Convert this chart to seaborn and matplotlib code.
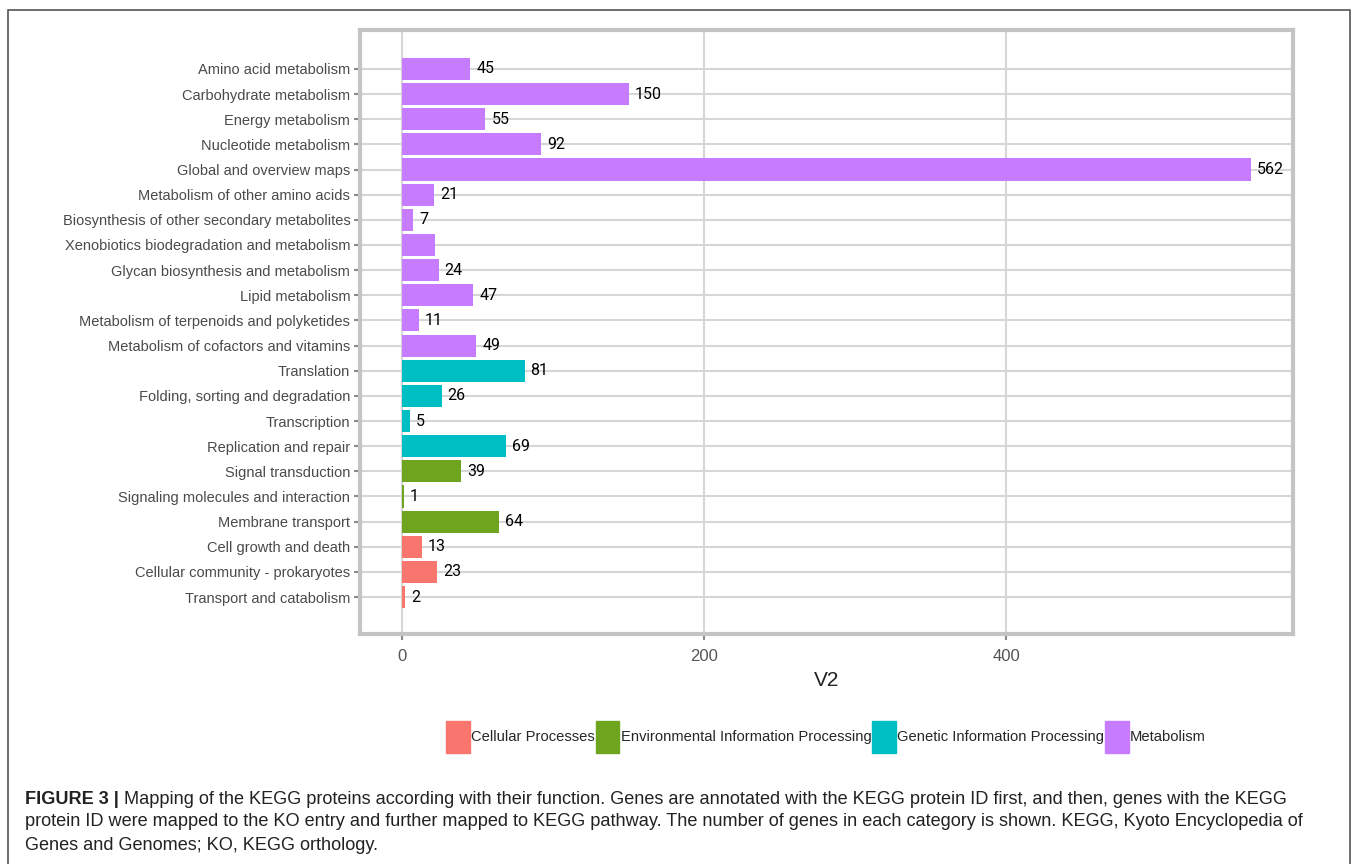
import matplotlib
matplotlib.use("Agg")
import matplotlib.pyplot as plt
import seaborn as sns
import pandas as pd
from matplotlib.patches import Rectangle

categories = [
    "Amino acid metabolism", "Carbohydrate metabolism", "Energy metabolism",
    "Nucleotide metabolism", "Global and overview maps", "Metabolism of other amino acids",
    "Biosynthesis of other secondary metabolites", "Xenobiotics biodegradation and metabolism",
    "Glycan biosynthesis and metabolism", "Lipid metabolism",
    "Metabolism of terpenoids and polyketides", "Metabolism of cofactors and vitamins",
    "Translation", "Folding, sorting and degradation", "Transcription",
    "Replication and repair", "Signal transduction", "Signaling molecules and interaction",
    "Membrane transport", "Cell growth and death", "Cellular community - prokaryotes",
    "Transport and catabolism",
]
values = [45, 150, 55, 92, 562, 21, 7, 22, 24, 47, 11, 49, 81, 26, 5, 69, 39, 1, 64, 13, 23, 2]
value_labels = ["45", "150", "55", "92", "562", "21", "7", "", "24", "47", "11", "49",
                "81", "26", "5", "69", "39", "1", "64", "13", "23", "2"]
groups = (["Metabolism"] * 12 + ["Genetic Information Processing"] * 4
          + ["Environmental Information Processing"] * 3 + ["Cellular Processes"] * 3)
group_order = ["Cellular Processes", "Environmental Information Processing",
               "Genetic Information Processing", "Metabolism"]
group_colors = ["#F8766D", "#6FA41F", "#00BFC4", "#C77CFF"]

df = pd.DataFrame({"cat": categories, "V2": values, "group": groups})

sns.set_style("white")
fam = ["Liberation Sans", "DejaVu Sans"]
plt.rcParams["font.family"] = fam

W, H = 1358, 864
fig = plt.figure(figsize=(W / 100, H / 100), dpi=100)
renderer = fig.canvas.get_renderer()


def fit_size(text, target_px, base=12, **kw):
    t = fig.text(0, 0, text, fontsize=base, **kw)
    w = t.get_window_extent(renderer).width
    t.remove()
    return base * target_px / w


ax = fig.add_axes([360 / W, 1 - 634 / H, (1293 - 360) / W, (634 - 30) / H])

sns.barplot(data=df, y="cat", x="V2", hue="group", hue_order=group_order,
            palette=dict(zip(group_order, group_colors)), order=categories,
            dodge=False, orient="h", width=0.88, ax=ax, legend=True, saturation=1,
            linewidth=0)

lab_size = fit_size("Biosynthesis of other secondary metabolites", 287)

for i, (v, lab) in enumerate(zip(values, value_labels)):
    ax.text(v + 4, i, lab, va="center", ha="left", fontsize=11.5, color="black",
            family=["Roboto", "DejaVu Sans"])

ax.set_xlim(-28, 590)
ax.set_ylim(len(categories) - 1 + 1.47, -1.55)
ax.set_xticks([0, 200, 400])
ax.set_xticklabels(["0", "200", "400"])
ax.grid(True, color="#d6d6d6", linewidth=1.5)
ax.set_axisbelow(True)
for s in ax.spines.values():
    s.set_visible(True)
    s.set_color("#c4c4c4")
    s.set_linewidth(3)
ax.tick_params(axis="both", length=4, width=1.5, color="#8a8a8a",
               labelcolor="#4a4a4a", left=True, bottom=True, pad=3)
ax.tick_params(axis="y", labelsize=lab_size)
ax.tick_params(axis="x", labelsize=12, pad=7, labelcolor="#555555")
ax.set_ylabel("")
ax.set_xlabel("V2", fontsize=15, color="#222222", labelpad=5)

ax.legend_.remove()
leg_size = fit_size("Environmental Information Processing", 250)
handles = [Rectangle((0, 0), 1, 1, color=c) for c in group_colors]
fig.legend(handles, group_order, loc="center", bbox_to_anchor=(826 / W, 1 - 737 / H),
           ncol=4, frameon=False, fontsize=leg_size, handlelength=1.6, handleheight=3.0,
           handletextpad=0.1, columnspacing=0.05, borderaxespad=0)

# outer frame
fig.patches.append(Rectangle((8 / W, -0.02), (1350 - 8) / W, 1 - 10 / H + 0.02,
                             transform=fig.transFigure, fill=False,
                             edgecolor="#555555", linewidth=1.2))

# caption
cap = ["FIGURE 3 |", " Mapping of the KEGG proteins according with their function. Genes are annotated with the KEGG protein ID first, and then, genes with the KEGG",
       "protein ID were mapped to the KO entry and further mapped to KEGG pathway. The number of genes in each category is shown. KEGG, Kyoto Encyclopedia of",
       "Genes and Genomes; KO, KEGG orthology."]
cx = 25
csize = fit_size(cap[2], 1280)
t0 = fig.text(cx / W, 1 - 800 / H, cap[0], fontsize=csize, fontweight="bold",
              va="center", ha="left", color="#222222")
bb = t0.get_window_extent(renderer)
fig.text(bb.x1 / W, 1 - 800 / H, cap[1], fontsize=csize,
         va="center", ha="left", color="#222222")
fig.text(cx / W, 1 - 822 / H, cap[2], fontsize=csize,
         va="center", ha="left", color="#222222")
fig.text(cx / W, 1 - 845 / H, cap[3], fontsize=csize,
         va="center", ha="left", color="#222222")

fig.savefig("out.png", dpi=100)
